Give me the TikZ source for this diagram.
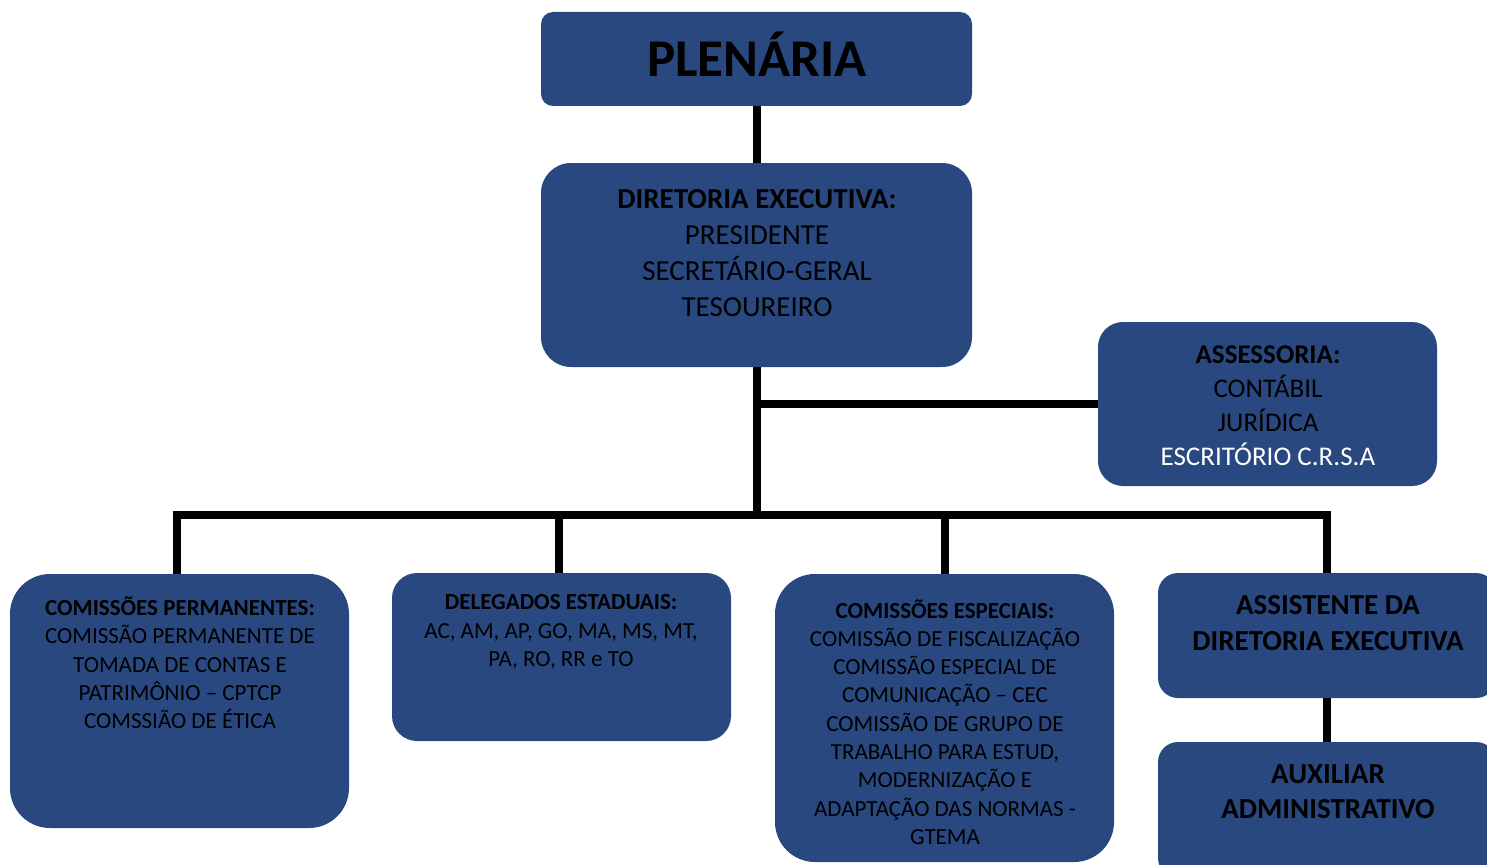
\documentclass[tikz,border=0pt]{standalone}
\usepackage{fontspec}
\setmainfont{Carlito}
\usepackage{xcolor}
\usepackage{tikz}
\definecolor{boxblue}{RGB}{41,72,128}

\begin{document}
\begin{tikzpicture}[x=1pt, y=-1pt,
    box/.style={fill=boxblue, draw=none, inner sep=0pt},
    txt/.style={align=center, text=black, inner sep=0pt},
    small/.style={font=\fontsize{23}{28.3}\selectfont},
    big/.style={font=\fontsize{29}{36}\selectfont},
    link/.style={line width=8pt, black}]
    \useasboundingbox (0,0) rectangle (1487,864);

    % Plenaria
    \node[box, rounded corners=12pt, minimum width=431pt, minimum height=94pt] (plen) at (756.5,59) {};
    \node[txt, font=\fontsize{53}{60}\selectfont\bfseries] (plentxt) at (757,54) {PLENÁRIA};

    % Diretoria executiva
    \node[box, rounded corners=30pt, minimum width=431pt, minimum height=204pt] (dir) at (756.5,265) {};
    \node[txt, big] (dirtxt) at (757,253) {\textbf{DIRETORIA EXECUTIVA:}\\PRESIDENTE\\SECRETÁRIO-GERAL\\TESOUREIRO};

    % Assessoria
    \node[box, rounded corners=25pt, minimum width=339pt, minimum height=164pt] (asse) at (1267.5,404) {};
    \node[txt, font=\fontsize{27}{34}\selectfont] (assetxt) at (1268,406) {\textbf{ASSESSORIA:}\\CONTÁBIL\\JURÍDICA\\\textcolor{white}{ESCRITÓRIO C.R.S.A}};

    % Comissoes permanentes
    \node[box, rounded corners=40pt, minimum width=339pt, minimum height=254pt] (perm) at (179.5,701) {};
    \node[txt, small] (permtxt) at (180,663) {\textbf{COMISSÕES PERMANENTES:}\\COMISSÃO PERMANENTE DE\\TOMADA DE CONTAS E\\PATRIMÔNIO -- CPTCP\\COMSSIÃO DE ÉTICA};

    % Delegados estaduais
    \node[box, rounded corners=25pt, minimum width=339pt, minimum height=168pt] (deleg) at (561.5,657) {};
    \node[txt, small] (delegtxt) at (561,632) {\textbf{DELEGADOS ESTADUAIS:}\\AC, AM, AP, GO, MA, MS, MT,\\PA, RO, RR e TO};

    % Comissoes especiais
    \node[box, rounded corners=40pt, minimum width=339pt, minimum height=288pt] (esp) at (944.5,718) {};
    \node[txt, small] (esptxt) at (945,722) {\textbf{COMISSÕES ESPECIAIS:}\\COMISSÃO DE FISCALIZAÇÃO\\COMISSÃO ESPECIAL DE\\COMUNICAÇÃO -- CEC\\COMISSÃO DE GRUPO DE\\TRABALHO PARA ESTUD,\\MODERNIZAÇÃO E\\ADAPTAÇÃO DAS NORMAS -\\GTEMA};

    % Assistente e auxiliar
    \node[box, rounded corners=20pt, minimum width=338pt, minimum height=125pt] (assist) at (1327,635.5) {};
    \node[txt, big] (assisttxt) at (1328,623) {\textbf{ASSISTENTE DA}\\\textbf{DIRETORIA EXECUTIVA}};
    \node[box, rounded corners=20pt, minimum width=338pt, minimum height=136pt] (aux) at (1327,810) {};
    \node[txt, font=\fontsize{29}{35}\selectfont] (auxtxt) at (1328,792) {\textbf{AUXILIAR}\\\textbf{ADMINISTRATIVO}};

    % Connectors
    \coordinate (bus) at (756.5,515);
    \draw[link] (plen) -- (dir);
    \draw[link] (dir) -- (bus);
    \draw[link] (dir.south |- asse.west) -- (asse.west);
    \draw[link] ([xshift=-2.5pt]perm.north) |- (bus) -| (assist.north);
    \draw[link] ([xshift=-3pt]deleg.north) -- ([xshift=-3pt]deleg.north |- bus);
    \draw[link] (esp.north) -- (esp.north |- bus);
    \draw[link] (assist) -- (aux);
\end{tikzpicture}
\end{document}
